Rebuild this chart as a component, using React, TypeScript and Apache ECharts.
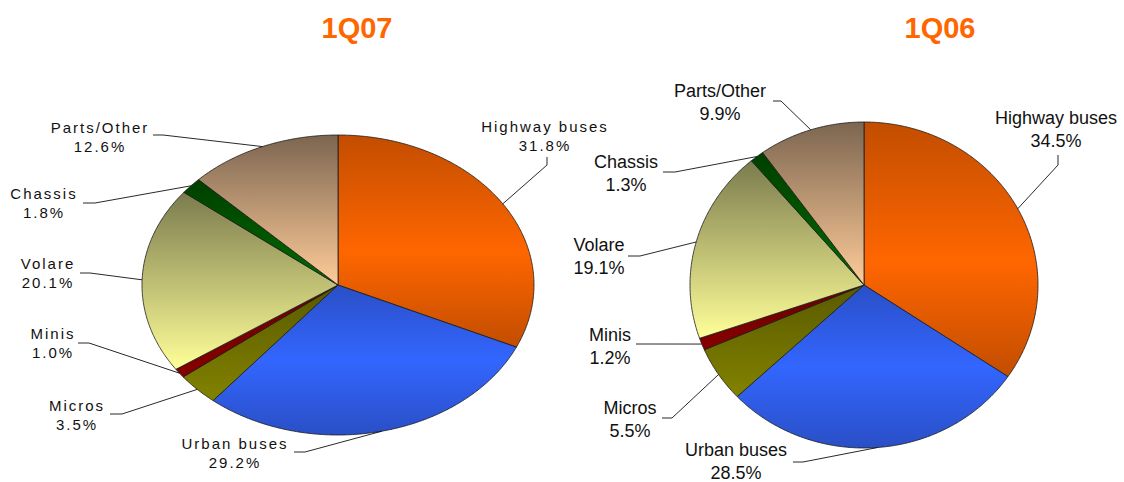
import React, { useEffect, useRef } from "react";
import * as echarts from "echarts";

// ---------- data ----------
const categories = ["Highway buses", "Urban buses", "Micros", "Minis", "Volare", "Chassis", "Parts/Other"];
const values1Q07 = [31.8, 29.2, 3.5, 1.0, 20.1, 1.8, 12.6];
const values1Q06 = [34.5, 28.5, 5.5, 1.2, 19.1, 1.3, 9.9];
const titles = ["1Q07", "1Q06"];

// ---------- styles / layout ----------
const sliceStops: [number, string][][] = [
  [[0, "#c24d00"], [0.55, "#ff6600"], [1, "#c24d00"]],
  [[0, "#2a4fc6"], [0.5, "#3366ff"], [1, "#2a4fc6"]],
  [[0, "#595900"], [1, "#828200"]],
  [[0, "#6c0000"], [1, "#860000"]],
  [[0, "#7b7b4e"], [1, "#ffff99"]],
  [[0, "#003f00"], [1, "#006b00"]],
  [[0, "#7c6550"], [1, "#ffcc99"]],
];

type Pie = { cx: number; cy: number; rx: number; ry: number };
type Lab = { x: number; y: number; p1: number[]; p2: number[] };

const pieLeft: Pie = { cx: 338, cy: 285, rx: 196, ry: 150 };
const pieRight: Pie = { cx: 864, cy: 285, rx: 174, ry: 163 };

const labelsLeft: Lab[] = [
  { x: 545, y: 135.5, p1: [547, 157], p2: [547, 165] },
  { x: 235, y: 452.5, p1: [294, 452], p2: [305, 452] },
  { x: 77, y: 414.5, p1: [110, 414], p2: [122, 414] },
  { x: 53, y: 343, p1: [78, 343], p2: [89, 343] },
  { x: 48, y: 273, p1: [80, 273], p2: [90, 273] },
  { x: 44, y: 202.5, p1: [83, 203], p2: [95, 203] },
  { x: 100, y: 137, p1: [153, 135], p2: [163, 135] },
];
const labelsRight: Lab[] = [
  { x: 1056, y: 129, p1: [1058, 155], p2: [1058, 165] },
  { x: 736, y: 461.5, p1: [793, 462], p2: [803, 462] },
  { x: 630, y: 419.5, p1: [662, 418], p2: [672, 418] },
  { x: 610, y: 346, p1: [636, 344], p2: [646, 344] },
  { x: 599, y: 256.5, p1: [628, 256], p2: [640, 256] },
  { x: 626, y: 173.5, p1: [663, 172], p2: [675, 172] },
  { x: 720, y: 102, p1: [773, 101], p2: [781, 101] },
];

const FONT = "'Liberation Sans', Arial, sans-serif";

function makeRenderItem(values: number[], pie: Pie, labels: Lab[], fontSize: number, lineHeight: number) {
  const total = values.reduce((a, b) => a + b, 0);
  const cum: number[] = [];
  let acc = 0;
  values.forEach((v) => {
    cum.push(acc);
    acc += v;
  });
  return (params: any, api: any) => {
    const i = params.dataIndex;
    const v = api.value(0);
    const a0 = (cum[i] / total) * Math.PI * 2;
    const a1 = ((cum[i] + v) / total) * Math.PI * 2;
    const pt = (t: number) => [pie.cx + pie.rx * Math.sin(t), pie.cy - pie.ry * Math.cos(t)];
    const n = Math.max(2, Math.ceil((a1 - a0) / (Math.PI / 360)));
    const pts: number[][] = [[pie.cx, pie.cy]];
    for (let k = 0; k <= n; k++) pts.push(pt(a0 + ((a1 - a0) * k) / n));
    const mid = pt((a0 + a1) / 2);
    const lab = labels[i];
    return {
      type: "group",
      children: [
        {
          type: "polygon",
          shape: { points: pts },
          style: {
            fill: new echarts.graphic.LinearGradient(
              0, 0, 0, 1,
              sliceStops[i].map(([o, c]) => ({ offset: o, color: c }))
            ),
            stroke: "#1a1a1a",
            lineWidth: 0.8,
            lineJoin: "round",
          },
        },
        {
          type: "polyline",
          shape: { points: [lab.p1, lab.p2, mid] },
          style: { stroke: "#111", lineWidth: 0.9, fill: null },
        },
        {
          type: "text",
          x: lab.x,
          y: lab.y,
          style: {
            text: `${categories[i]}\n${v.toFixed(1)}%`,
            textAlign: "center",
            textVerticalAlign: "middle",
            font: `${fontSize}px ${FONT}`,
            lineHeight,
            fill: "#111",
          },
        },
      ],
    };
  };
}

export default function App() {
  const ref = useRef<HTMLDivElement>(null);
  useEffect(() => {
    if (!ref.current) return;
    const chart = echarts.init(ref.current, null, { renderer: "svg" });
    const option: any = {
      animation: false,
      backgroundColor: "#ffffff",
      graphic: titles.map((t, k) => ({
        type: "text",
        x: k === 0 ? 357 : 940,
        y: 28,
        style: {
          text: t,
          textAlign: "center",
          textVerticalAlign: "middle",
          font: `bold 29px ${FONT}`,
          fill: "#ff6600",
        },
      })),
      series: [
        {
          type: "custom",
          coordinateSystem: "none",
          silent: true,
          data: values1Q07.map((v) => [v]),
          renderItem: makeRenderItem(values1Q07, pieLeft, labelsLeft, 15, 19),
        },
        {
          type: "custom",
          coordinateSystem: "none",
          silent: true,
          data: values1Q06.map((v) => [v]),
          renderItem: makeRenderItem(values1Q06, pieRight, labelsRight, 18, 23),
        },
      ],
    };
    chart.setOption(option);
    const space = () => {
      if (!ref.current) return;
      ref.current.querySelectorAll("text").forEach((el) => {
        const fs = window.getComputedStyle(el).fontSize;
        if (fs === "15px") el.setAttribute("letter-spacing", "2");
      });
    };
    space();
    chart.on("finished", space);
    const id = window.setTimeout(space, 50);
    return () => {
      window.clearTimeout(id);
      chart.dispose();
    };
  }, []);
  return (
    <div
      ref={ref}
      style={{ position: "absolute", left: 0, top: 0, width: 1124, height: 482 }}
    />
  );
}
